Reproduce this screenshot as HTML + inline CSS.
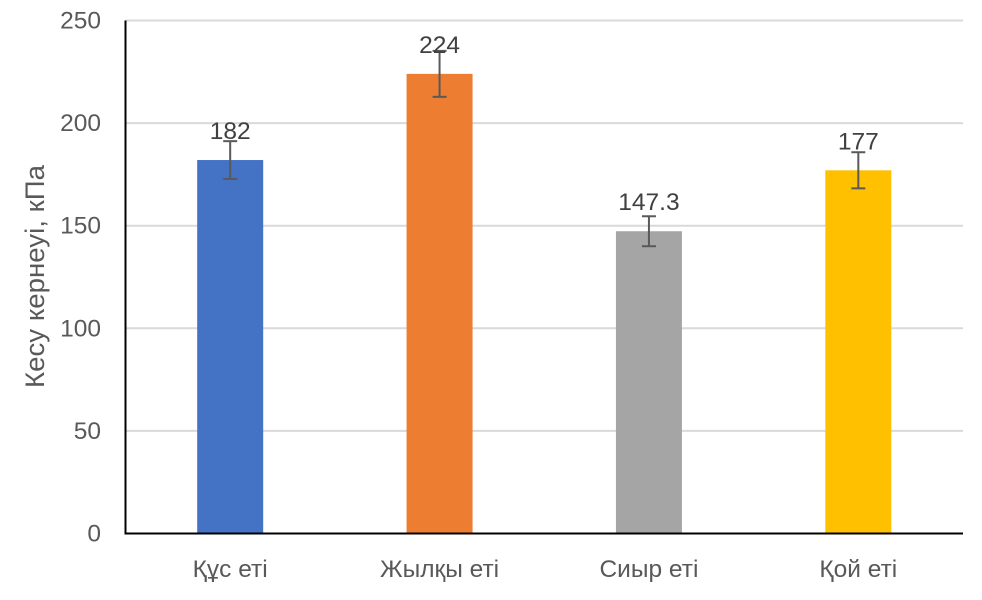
<!DOCTYPE html>
<html lang="kk">
<head>
<meta charset="utf-8">
<title>Кесу кернеуі</title>
<style>
html,body{margin:0;padding:0;background:#fff;}
#chart{display:block;width:982px;height:600px;font-family:"Liberation Sans","DejaVu Sans",sans-serif;}
</style>
</head>
<body>
<svg id="chart" xmlns="http://www.w3.org/2000/svg" width="982" height="600" viewBox="0 0 982 600">
  <rect x="0" y="0" width="982" height="600" fill="#ffffff"></rect>
  <g id="grid"></g>
  <g id="bars"></g>
  <g id="axes"></g>
  <g id="errors"></g>
  <g id="labels"></g>
  <g id="yticks"></g>
  <g id="xticks"></g>
  <text transform="translate(44,276.5) rotate(-90)" text-anchor="middle" font-size="27" fill="#595959" textLength="223" lengthAdjust="spacingAndGlyphs">Кесу кернеуі, кПа</text>
</svg>
<script>
const categories = ['Құс еті', 'Жылқы еті', 'Сиыр еті', 'Қой еті'];
const values = [182, 224, 147.3, 177];
const valueLabels = ['182', '224', '147.3', '177'];
const errors = [9.2, 11.2, 7.3, 8.8];
const barColors = ['#4472c4', '#ed7d31', '#a5a5a5', '#ffc000'];
const yTicks = [0, 50, 100, 150, 200, 250];

const NS = 'http://www.w3.org/2000/svg';
const plot = { left: 125.5, right: 963, top: 20.5, bottom: 533.5 };
const yMax = 250;
const barWidth = 66;

function y(v) {
  return plot.bottom - (v / yMax) * (plot.bottom - plot.top);
}
function x(i) {
  return plot.left + (i + 0.5) * (plot.right - plot.left) / categories.length;
}
function make(tag, attrs, parent) {
  const el = document.createElementNS(NS, tag);
  for (const k in attrs) el.setAttribute(k, attrs[k]);
  parent.appendChild(el);
  return el;
}

const gridG = document.getElementById('grid');
const barsG = document.getElementById('bars');
const axesG = document.getElementById('axes');
const errG = document.getElementById('errors');
const labG = document.getElementById('labels');
const yG = document.getElementById('yticks');
const xG = document.getElementById('xticks');

yTicks.forEach(function (t) {
  if (t !== 0) {
    const g = make('line', { x1: plot.left, x2: plot.right, y1: y(t), y2: y(t), stroke: '#d9d9d9', 'stroke-width': 2 }, gridG);
    
    
  }
  const lab = make('text', { x: 101, y: y(t) + 8, 'text-anchor': 'end', 'font-size': 24.5, fill: '#595959' }, yG);
  
  
  lab.textContent = String(t);
});

categories.forEach(function (c, i) {
  const cx = x(i);
  const bar = make('rect', { x: cx - barWidth / 2, y: y(values[i]), width: barWidth, height: y(0) - y(values[i]), fill: barColors[i] }, barsG);
  
  

  const top = y(values[i] + errors[i]);
  const bot = y(values[i] - errors[i]);
  const stem = make('line', { x1: cx, x2: cx, y1: top, y2: bot, stroke: '#595959', 'stroke-width': 2 }, errG);
  
  
  const capT = make('line', { x1: cx - 7, x2: cx + 7, y1: top, y2: top, stroke: '#595959', 'stroke-width': 2 }, errG);
  
  
  const capB = make('line', { x1: cx - 7, x2: cx + 7, y1: bot, y2: bot, stroke: '#595959', 'stroke-width': 2 }, errG);
  
  

  const vl = make('text', { x: cx, y: y(values[i]) - 21, 'text-anchor': 'middle', 'font-size': 24.5, fill: '#404040' }, labG);
  
  
  vl.textContent = valueLabels[i];

  const xl = make('text', { x: cx, y: 577, 'text-anchor': 'middle', 'font-size': 24.5, fill: '#595959' }, xG);
  
  
  xl.textContent = c;
});

const yAxis = make('line', { x1: plot.left, x2: plot.left, y1: plot.top, y2: plot.bottom + 1, stroke: '#000000', 'stroke-width': 2 }, axesG);


const xAxis = make('line', { x1: plot.left - 1, x2: plot.right, y1: plot.bottom, y2: plot.bottom, stroke: '#000000', 'stroke-width': 2 }, axesG);


</script>
</body>
</html>
